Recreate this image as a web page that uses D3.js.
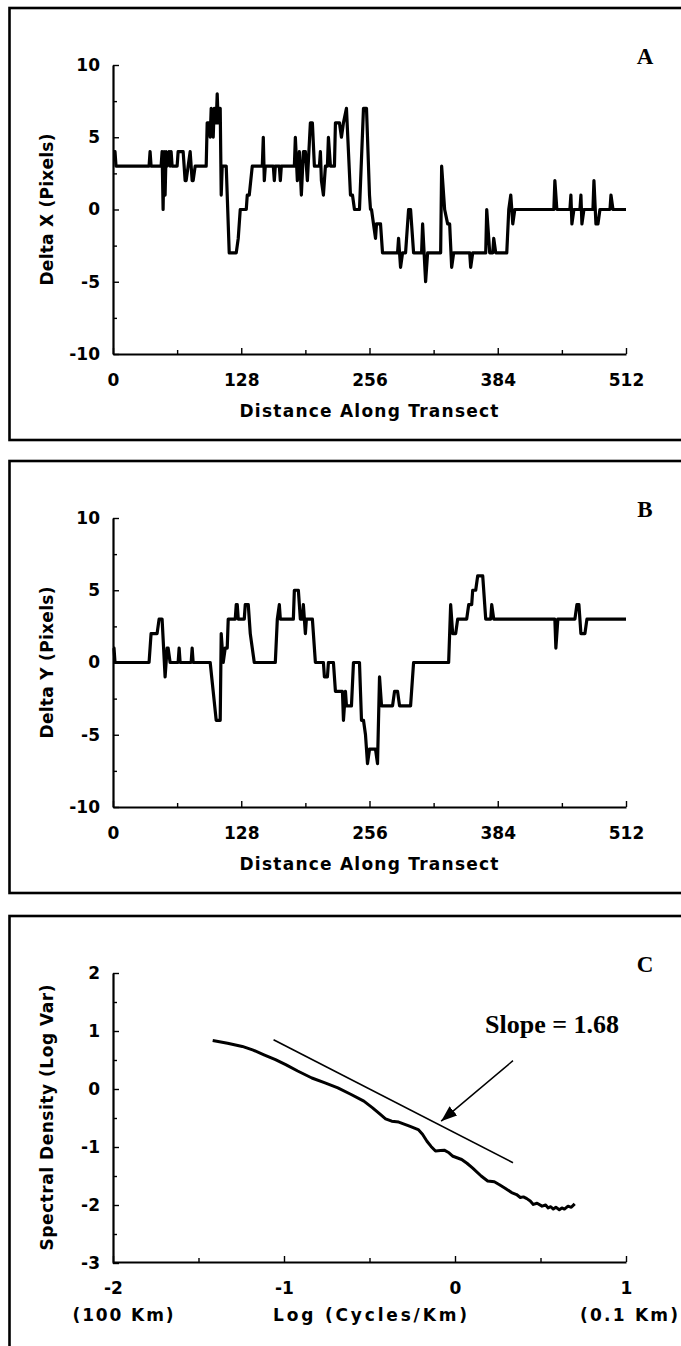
<!DOCTYPE html>
<html>
<head>
<meta charset="utf-8">
<script src="https://cdn.jsdelivr.net/npm/d3@7"></script>
<style>
   body { margin: 0; background: #fff; }
   svg { display: block; }
</style>
</head>
<body>
<svg id="chart" width="681" height="1346"></svg>
<script>

// PANEL A DATA (DISTANCE, DELTA X)
var distA = [0,2,3,36,37,38,48,49,50,51,52,53,54,56,57,58,59,64,65,70,72,73,75,77,79,80,82,
   93,94,96,97,98,100,101,103,104,105,106,107,108,109,113,116,123,125,127,133,134,136,139,
   149,150,151,152,160,161,162,166,167,168,181,182,184,186,188,190,192,194,197,199,201,206,
   207,208,210,212,214,215,217,221,222,226,228,230,233,235,237,239,241,246,250,253,256,257,
   258,260,262,263,267,269,284,285,287,289,292,295,297,300,308,309,312,314,327,328,331,334,
   336,338,340,356,357,359,372,373,376,379,380,382,393,395,397,399,401,440,441,443,456,457,
   458,460,466,467,468,470,479,480,482,484,486,496,497,499,512];
var deltaX = [4,4,3,3,4,3,3,4,0,4,1,4,3,4,3,4,3,3,4,4,2,2,3,4,2,2,3,
   3,6,6,5,7,5,7,6,8,6,7,7,1,3,3,-3,-3,-2,0,0,1,1,3,
   3,5,2,3,3,2,3,3,2,3,3,5,2,4,1,4,4,2,6,6,3,3,
   4,2,1,3,3,5,3,3,6,6,5,6,7,4,1,1,0,0,7,7,1,0,
   0,-1,-2,-1,-1,-3,-3,-2,-4,-3,-3,0,0,-3,-3,-1,-5,-3,-3,3,0,-1,
   -1,-4,-3,-3,-4,-3,-3,0,-3,-3,-2,-3,-3,0,1,-1,0,0,2,0,0,1,
   -1,0,0,1,-1,0,0,2,-1,-1,0,0,1,0,0];

// PANEL B DATA (DISTANCE, DELTA Y)
var distB = [0,1,2,36,38,44,46,49,52,54,55,57,65,66,67,78,79,80,97,100,103,107,108,110,112,
   114,115,122,123,124,125,131,132,135,136,137,141,162,164,166,167,180,181,185,186,187,189,
   190,192,193,199,202,210,211,214,215,220,222,229,230,232,233,238,240,246,248,250,252,254,
   256,262,264,266,268,279,281,284,286,297,300,335,337,339,342,344,353,355,358,359,362,364,
   369,372,377,378,380,441,442,444,461,463,465,467,471,473,512];
var deltaY = [1,1,0,0,2,2,3,3,-1,1,1,0,0,1,0,0,1,0,0,-2,-4,-4,2,0,1,
   1,3,3,4,4,3,3,4,4,3,2,0,0,3,4,3,3,5,5,4,3,3,
   4,2,3,3,0,0,-1,-1,0,0,-2,-2,-4,-2,-3,-3,0,0,-4,-4,-5,-7,
   -6,-6,-7,-1,-3,-3,-2,-2,-3,-3,0,0,4,2,2,3,3,4,4,5,5,6,
   6,3,3,4,3,3,1,3,3,4,4,2,2,3,3];

// PANEL C DATA (LOG FREQUENCY, LOG VARIANCE)
var logFreq = [-1.417,-1.33,-1.244,-1.18,-1.117,-1.05,-0.99,-0.92,-0.837,-0.76,-0.685,-0.61,
   -0.533,-0.482,-0.44,-0.406,-0.37,-0.329,-0.266,-0.215,-0.19,-0.164,-0.14,-0.114,-0.085,
   -0.063,-0.035,-0.012,0.039,0.07,0.102,0.153,0.191,0.23,0.26,0.293,0.331,0.36,0.382,0.40,
   0.42,0.44,0.458,0.48,0.509,0.53,0.545,0.56,0.575,0.59,0.61,0.625,0.64,0.661,0.68,0.70];
var logVar = [0.837,0.79,0.734,0.67,0.59,0.505,0.42,0.31,0.19,0.105,0.02,-0.09,
   -0.21,-0.325,-0.43,-0.514,-0.555,-0.57,-0.64,-0.70,-0.78,-0.90,-0.99,-1.07,-1.06,
   -1.055,-1.10,-1.16,-1.215,-1.28,-1.36,-1.50,-1.585,-1.60,-1.65,-1.71,-1.786,-1.82,-1.87,-1.86,
   -1.89,-1.93,-1.99,-1.97,-2.02,-2.00,-2.05,-2.03,-2.07,-2.04,-2.08,-2.05,-2.07,-2.02,-2.04,-1.98];

// SLOPE LINE + ARROW (DATA UNITS)
var slopeLine = [[-1.061, 0.849], [0.339, -1.27]];
var arrowLine = [[0.339, 0.488], [-0.081, -0.555]];

// TICKS
var distTicks = [0, 128, 256, 384, 512];
var distMinor = [64, 192, 320, 448];
var deltaTicks = [-10, -5, 0, 5, 10];
var deltaMinor = [-7.5, -2.5, 2.5, 7.5];
var freqTicks = [-2, -1, 0, 1];
var freqMinor = [-1.5, -0.5, 0.5];
var varTicks = [-3, -2, -1, 0, 1, 2];
var varMinor = [-2.5, -1.5, -0.5, 0.5, 1.5];

// LAYOUT
var plot = { left: 113, right: 626, top: 57, bottom: 346 };
var sans = '"DejaVu Sans", Verdana, sans-serif';
var serif = '"Liberation Serif", "Times New Roman", serif';

var svg = d3.select('#chart');

// FRAME + LETTER FOR ONE PANEL
function panel(top, letter) {
   var g = svg.append('g').attr('transform', 'translate(0,' + top + ')');

   g.append('rect')
      .attr('x', 9.5).attr('y', 0)
      .attr('width', 700).attr('height', 432)
      .attr('fill', 'none')
      .attr('stroke', '#000')
      .attr('stroke-width', 2.6);

   g.append('text')
      .attr('x', 645).attr('y', 56)
      .attr('text-anchor', 'middle')
      .attr('font-family', serif)
      .attr('font-weight', 'bold')
      .attr('font-size', 23)
      .text(letter);

   return g;
}

// AXES WITH MAJOR + MINOR TICKS
function axes(g, x, y, xt, xm, yt, ym, xPad) {

   var plain = d => String(d);

   // MINOR TICKS
   g.append('g')
      .attr('transform', 'translate(0,' + plot.bottom + ')')
      .call(d3.axisBottom(x).tickValues(xm).tickSize(-4).tickSizeOuter(0).tickFormat(''))
      .call(a => a.select('.domain').remove());
   g.append('g')
      .attr('transform', 'translate(' + plot.left + ',0)')
      .call(d3.axisLeft(y).tickValues(ym).tickSize(-4).tickSizeOuter(0).tickFormat(''))
      .call(a => a.select('.domain').remove());

   // MAJOR X
   var ax = g.append('g')
      .attr('transform', 'translate(0,' + plot.bottom + ')')
      .call(d3.axisBottom(x).tickValues(xt).tickSize(-6).tickSizeOuter(0).tickPadding(20).tickFormat(plain));

   // MAJOR Y
   var ay = g.append('g')
      .attr('transform', 'translate(' + plot.left + ',0)')
      .call(d3.axisLeft(y).tickValues(yt).tickSize(-6).tickSizeOuter(0).tickPadding(13).tickFormat(plain));

   [ax, ay].forEach(a => {
      a.select('.domain').attr('stroke-width', 2.2);
      a.selectAll('text')
         .attr('font-family', sans)
         .attr('font-weight', 'bold')
         .attr('font-size', 17)
         .attr('fill', '#000');
   });
   g.selectAll('.tick line').attr('stroke-width', 1.4);
}

// AXIS TITLE TEXT
function title(g, txt, x, y, len, rotate) {
   var t = g.append('text')
      .attr('text-anchor', 'middle')
      .attr('font-family', sans)
      .attr('font-weight', 'bold')
      .attr('font-size', 17)
      .attr('textLength', len)
      .attr('lengthAdjust', 'spacing')
      .text(txt);
   if (rotate) {
      t.attr('transform', 'translate(' + x + ',' + y + ') rotate(-90)').attr('dy', '0.35em');
   } else {
      t.attr('x', x).attr('y', y);
   }
}

// TRANSECT PANEL (A / B)
function transect(top, letter, dist, delta, yLabel) {
   var g = panel(top, letter);

   var x = d3.scaleLinear().domain([0, 512]).range([plot.left, plot.right]);
   var y = d3.scaleLinear().domain([-10, 10]).range([plot.bottom, plot.top]);

   axes(g, x, y, distTicks, distMinor, deltaTicks, deltaMinor);

   var line = d3.line()
      .x((d, i) => x(dist[i]))
      .y(d => y(d));

   g.append('path')
      .attr('fill', 'none')
      .attr('stroke', '#000')
      .attr('stroke-width', 3.2)
      .attr('stroke-linejoin', 'round')
      .attr('d', line(delta));

   title(g, 'Distance Along Transect', 369, 409, 259, false);
   title(g, yLabel, 47, (plot.top + plot.bottom) / 2, 152, true);
}

transect(8, 'A', distA, deltaX, 'Delta X (Pixels)');
transect(461, 'B', distB, deltaY, 'Delta Y (Pixels)');

// SPECTRAL PANEL (C)
var gC = panel(916, 'C');

var xC = d3.scaleLinear().domain([-2, 1]).range([plot.left, plot.right]);
var yC = d3.scaleLinear().domain([-3, 2]).range([plot.bottom + 1, plot.top]);

axes(gC, xC, yC, freqTicks, freqMinor, varTicks, varMinor);

var spectrum = d3.line()
   .x((d, i) => xC(logFreq[i]))
   .y(d => yC(d));

gC.append('path')
   .attr('fill', 'none')
   .attr('stroke', '#000')
   .attr('stroke-width', 3)
   .attr('stroke-linejoin', 'round')
   .attr('d', spectrum(logVar));

// FITTED SLOPE
gC.append('line')
   .attr('x1', xC(slopeLine[0][0])).attr('y1', yC(slopeLine[0][1]))
   .attr('x2', xC(slopeLine[1][0])).attr('y2', yC(slopeLine[1][1]))
   .attr('stroke', '#000')
   .attr('stroke-width', 1.7);

// ARROW
svg.append('defs').append('marker')
   .attr('id', 'head')
   .attr('markerUnits', 'userSpaceOnUse')
   .attr('viewBox', '0 0 16 12')
   .attr('markerWidth', 16).attr('markerHeight', 12)
   .attr('refX', 16).attr('refY', 6)
   .attr('orient', 'auto')
   .append('path')
      .attr('d', 'M0,0L16,6L0,12Z')
      .attr('fill', '#000');

gC.append('line')
   .attr('x1', xC(arrowLine[0][0])).attr('y1', yC(arrowLine[0][1]))
   .attr('x2', xC(arrowLine[1][0])).attr('y2', yC(arrowLine[1][1]))
   .attr('stroke', '#000')
   .attr('stroke-width', 1.5)
   .attr('marker-end', 'url(#head)');

gC.append('text')
   .attr('x', 485).attr('y', 117)
   .attr('font-family', serif)
   .attr('font-weight', 'bold')
   .attr('font-size', 26)
   .text('Slope = 1.68');

title(gC, 'Spectral Density (Log Var)', 47, (plot.top + plot.bottom) / 2, 266, true);
title(gC, '(100 Km)', 123, 405, 101, false);
title(gC, 'Log (Cycles/Km)', 370, 405, 194, false);
title(gC, '(0.1 Km)', 629, 405, 98, false);

</script>
</body>
</html>
